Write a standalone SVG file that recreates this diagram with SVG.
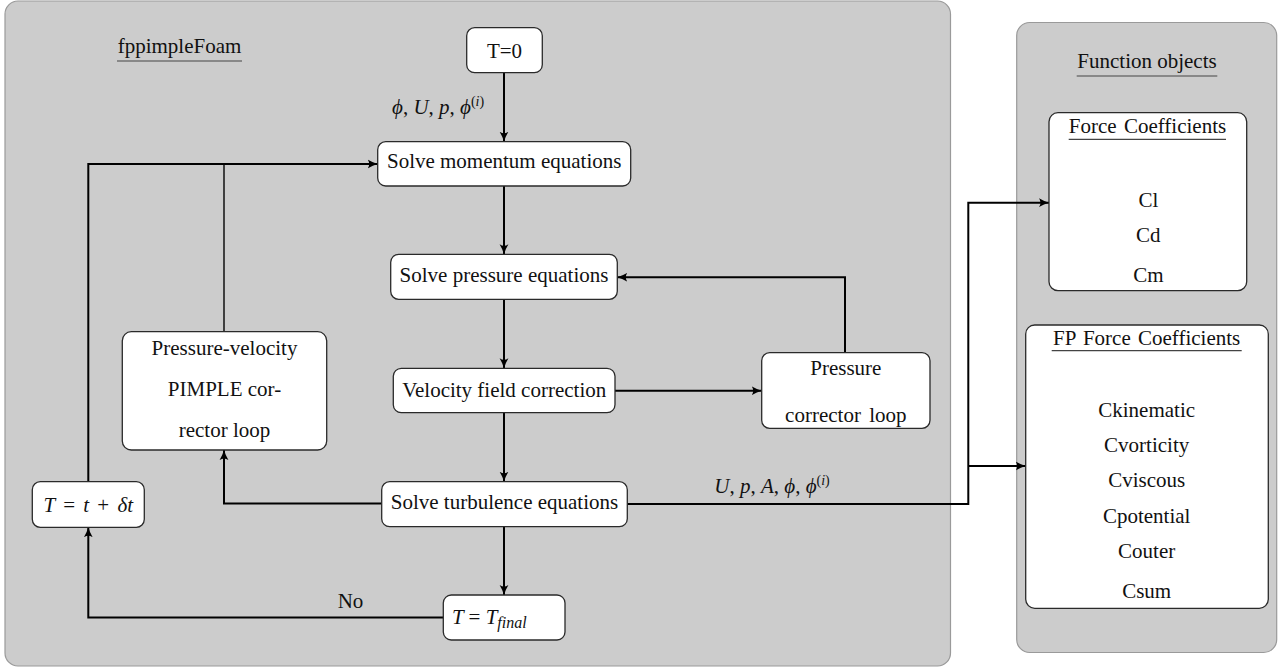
<svg xmlns="http://www.w3.org/2000/svg" width="1280" height="669" viewBox="0 0 1280 669">
<style>
.panel{fill:#cccccc;stroke:#9a9a9a;stroke-width:1.2}
.box{fill:#ffffff;stroke:#2a2a2a;stroke-width:1.3}
.t{font-family:"Liberation Serif","Times New Roman",serif;font-size:21px;fill:#111;text-anchor:middle}
.m{font-family:"Liberation Serif","Times New Roman",serif;font-size:21px;fill:#111;font-style:italic}
.ul{stroke:#444;stroke-width:1.2}
.c{fill:none;stroke:#000;stroke-width:2}
.cthin{fill:none;stroke:#111;stroke-width:1.5}
</style>
<defs>
<marker id="ah" viewBox="0 0 10 10" refX="10" refY="5" markerWidth="10" markerHeight="10" markerUnits="userSpaceOnUse" orient="auto">
<path d="M0,0.6 Q5,3.6 10,5 Q5,6.4 0,9.4 Q3,5 0,0.6 Z" fill="#000"/>
</marker>
</defs>

<g id="main-panel">
<rect class="panel" x="5" y="1" width="945.5" height="665" rx="13"/>
<text class="t" x="179.5" y="53">fppimpleFoam</text>
<line class="ul" x1="117" y1="61" x2="242" y2="61"/>
</g>

<g id="fo-panel">
<rect class="panel" x="1016.7" y="22.5" width="260" height="630" rx="13"/>
<text class="t" x="1147" y="68">Function objects</text>
<line class="ul" x1="1076.7" y1="76" x2="1217.3" y2="76"/>
</g>

<g id="connectors">
<line class="c" x1="504" y1="72.7" x2="504" y2="141.7" marker-end="url(#ah)"/>
<line class="c" x1="504" y1="186" x2="504" y2="254.3" marker-end="url(#ah)"/>
<line class="c" x1="504" y1="299.3" x2="504" y2="368.3" marker-end="url(#ah)"/>
<line class="c" x1="504" y1="412.7" x2="504" y2="481.7" marker-end="url(#ah)"/>
<line class="c" x1="504" y1="526.7" x2="504" y2="595" marker-end="url(#ah)"/>
<line class="c" x1="615" y1="390.7" x2="761.7" y2="390.7" marker-end="url(#ah)"/>
<polyline class="c" points="845,352.7 845,277.3 617.3,277.3" marker-end="url(#ah)"/>
<polyline class="c" points="381.7,503.5 224,503.5 224,450" marker-end="url(#ah)"/>
<line class="cthin" x1="224" y1="331.7" x2="224" y2="164"/>
<polyline class="c" points="443.3,617.5 88.3,617.5 88.3,527.3" marker-end="url(#ah)"/>
<polyline class="c" points="88.3,481.7 88.3,164 377.7,164" marker-end="url(#ah)"/>
<polyline class="c" points="627.3,504 968.3,504 968.3,202.7 1049,202.7" marker-end="url(#ah)"/>
<line class="c" x1="968.3" y1="466" x2="1025.7" y2="466" marker-end="url(#ah)"/>
<text class="m" x="392" y="114">ϕ<tspan font-style="normal">, </tspan>U<tspan font-style="normal">, </tspan>p<tspan font-style="normal">, </tspan>ϕ<tspan font-size="14" dy="-8" font-style="normal">(<tspan font-style="italic">i</tspan>)</tspan></text>
<text class="m" x="714.3" y="493">U<tspan font-style="normal">, </tspan>p<tspan font-style="normal">, </tspan>A<tspan font-style="normal">, </tspan>ϕ<tspan font-style="normal">, </tspan>ϕ<tspan font-size="14" dy="-8" font-style="normal">(<tspan font-style="italic">i</tspan>)</tspan></text>
<text class="t" x="350.5" y="608">No</text>
</g>

<g id="t0">
<rect class="box" x="466.7" y="27.7" width="75.6" height="45" rx="8"/>
<text class="t" x="504.5" y="58">T=0</text>
</g>

<g id="momentum">
<rect class="box" x="377.7" y="141.7" width="253" height="44.3" rx="8"/>
<text class="t" x="504.2" y="168.3">Solve momentum equations</text>
</g>

<g id="pressure">
<rect class="box" x="390.7" y="254.3" width="226.6" height="45" rx="8"/>
<text class="t" x="504" y="281.7">Solve pressure equations</text>
</g>

<g id="velocity">
<rect class="box" x="393.3" y="368.3" width="221.7" height="44.4" rx="8"/>
<text class="t" x="504.2" y="396.7">Velocity field correction</text>
</g>

<g id="pcorr">
<rect class="box" x="761.7" y="352.7" width="168.3" height="75.6" rx="8"/>
<text class="t" x="845.8" y="375">Pressure</text>
<text class="t" x="845.8" y="421.7" word-spacing="3">corrector loop</text>
</g>

<g id="turbulence">
<rect class="box" x="381.7" y="481.7" width="245.6" height="45" rx="8"/>
<text class="t" x="504.5" y="509.3">Solve turbulence equations</text>
</g>

<g id="pimple">
<rect class="box" x="122.3" y="331.7" width="204.4" height="118.3" rx="9"/>
<text class="t" x="224.5" y="355">Pressure-velocity</text>
<text class="t" x="224.5" y="396">PIMPLE cor-</text>
<text class="t" x="224.5" y="436.7">rector loop</text>
</g>

<g id="tstep">
<rect class="box" x="32.3" y="481.7" width="112" height="45.6" rx="8"/>
<text class="m" x="88.3" y="511.7" text-anchor="middle" word-spacing="3">T <tspan font-style="normal">=</tspan> t <tspan font-style="normal">+</tspan> δt</text>
</g>

<g id="tfinal">
<rect class="box" x="443.3" y="595" width="121.7" height="45" rx="8"/>
<text class="m" x="452" y="624">T <tspan font-style="normal">=</tspan> T<tspan font-size="16" dy="4">final</tspan></text>
</g>

<g id="force">
<rect class="box" x="1049" y="112.7" width="197.7" height="178" rx="9"/>
<text class="t" x="1147.5" y="133.3" word-spacing="2">Force Coefficients</text>
<line class="ul" x1="1068.7" y1="139.3" x2="1226" y2="139.3"/>
<text class="t" x="1148.3" y="207.3">Cl</text>
<text class="t" x="1148.3" y="241.7">Cd</text>
<text class="t" x="1148.3" y="281.7">Cm</text>
</g>

<g id="fpforce">
<rect class="box" x="1025.7" y="325" width="242.6" height="283.3" rx="9"/>
<text class="t" x="1146.7" y="345" word-spacing="2">FP Force Coefficients</text>
<line class="ul" x1="1051.7" y1="350.7" x2="1241.7" y2="350.7"/>
<text class="t" x="1146.7" y="417.3">Ckinematic</text>
<text class="t" x="1146.7" y="452.3">Cvorticity</text>
<text class="t" x="1146.7" y="486.7">Cviscous</text>
<text class="t" x="1146.7" y="523.3">Cpotential</text>
<text class="t" x="1146.7" y="558.3">Couter</text>
<text class="t" x="1146.7" y="598.3">Csum</text>
</g>
</svg>
